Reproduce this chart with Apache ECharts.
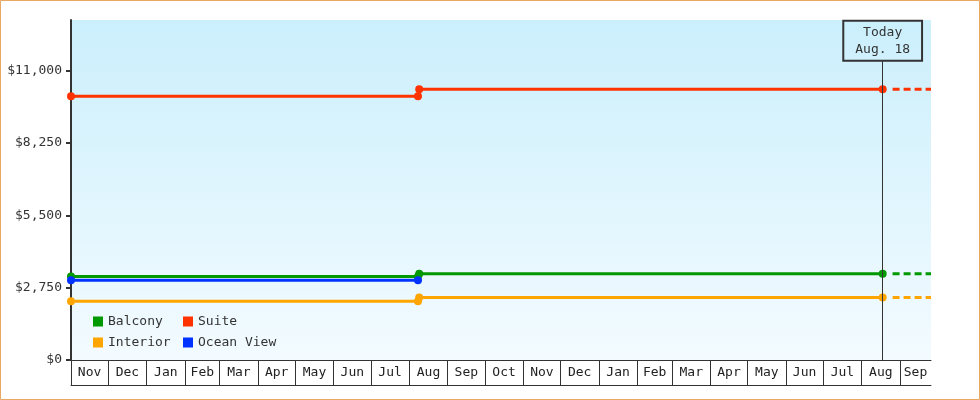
<!DOCTYPE html>
<html>
<head>
<meta charset="utf-8">
<script src="https://cdn.jsdelivr.net/npm/echarts@6/dist/echarts.min.js"></script>
<style>
  html, body { margin: 0; padding: 0; background: #fff; }
  #chart { width: 980px; height: 400px; }
</style>
</head>
<body>
<div id="chart"></div>
<script>
// room types and their prices (before / after the August change)
var rooms = ['Balcony', 'Suite', 'Interior', 'Ocean View'];
var roomColors = ['#009900', '#ff3300', '#ffa500', '#0033ff'];
var oldPrices = [3180, 10030, 2230, 3030];
var newPrices = [3280, 10300, 2380, null];

// dates
var firstDate = new Date(2016, 10, 1).getTime();
var lastOldDate = new Date(2017, 7, 8).getTime();
var firstNewDate = new Date(2017, 7, 9).getTime();
var todayDate = new Date(2018, 7, 18).getTime();
var projectionStart = new Date(2018, 7, 26).getTime();
var axisEnd = new Date(2018, 8, 26).getTime();

// axis labels
var monthNames = ['Jan', 'Feb', 'Mar', 'Apr', 'May', 'Jun', 'Jul', 'Aug', 'Sep', 'Oct', 'Nov', 'Dec'];
var monthCount = 23;
var yTicks = [0, 2750, 5500, 8250, 11000];
var yMax = 12930;
var todayLabel = 'Today\nAug. 18';
var todayTagBase = 11380;

var monthStarts = [];
var monthMids = [];
for (var i = 0; i < monthCount; i++) {
    var s = new Date(2016, 10 + i, 1).getTime();
    var e = Math.min(new Date(2016, 11 + i, 1).getTime(), axisEnd);
    monthStarts.push(s);
    monthMids.push((s + e) / 2);
}

var font = 'DejaVu Sans Mono';
var series = [];
rooms.forEach(function (name, k) {
    var base = {
        name: name,
        type: 'line',
        xAxisIndex: 0,
        symbol: 'circle',
        symbolSize: 8,
        lineStyle: { width: 3, color: roomColors[k] },
        itemStyle: { color: roomColors[k] },
        animation: false
    };
    series.push(Object.assign({}, base, {
        data: [[firstDate, oldPrices[k]], [lastOldDate, oldPrices[k]]]
    }));
    if (newPrices[k] != null) {
        series.push(Object.assign({}, base, {
            data: [[firstNewDate, newPrices[k]], [todayDate, newPrices[k]]]
        }));
        series.push(Object.assign({}, base, {
            symbol: 'none',
            lineStyle: { width: 3, color: roomColors[k], type: [7, 4] },
            data: [[projectionStart, newPrices[k]], [axisEnd, newPrices[k]]]
        }));
    }
});

// today marker
series.push({
    type: 'line',
    data: [],
    markLine: {
        silent: true,
        symbol: 'none',
        animation: false,
        lineStyle: { color: '#333', width: 1, type: 'solid' },
        label: {
            show: true,
            position: 'end',
            distance: 0,
            formatter: todayLabel,
            fontFamily: font,
            fontSize: 13,
            lineHeight: 17,
            color: '#333',
            borderColor: '#333',
            borderWidth: 1,
            padding: [3, 12, 3, 12],
            backgroundColor: 'transparent'
        },
        data: [[{ coord: [todayDate, 0] }, { coord: [todayDate, todayTagBase] }]]
    }
});

var myChart = echarts.init(document.getElementById('chart'));

option = {
    animation: false,
    grid: {
        left: 71, right: 49, top: 20, bottom: 40,
        show: true,
        borderWidth: 0,
        backgroundColor: new echarts.graphic.LinearGradient(0, 0, 0, 1, [
            { offset: 0, color: '#cbeffc' },
            { offset: 1, color: '#f3fbff' }
        ])
    },
    graphic: [{
        type: 'rect',
        shape: { x: 0.5, y: 0.5, width: 979, height: 399 },
        style: { fill: 'none', stroke: '#e8a860', lineWidth: 1 },
        silent: true
    }],
    legend: [
        {
            data: ['Balcony', 'Interior'],
            orient: 'vertical',
            left: 93, top: 315,
            padding: 0,
            itemWidth: 10, itemHeight: 10, itemGap: 8,
            icon: 'rect',
            textStyle: { fontFamily: font, fontSize: 13, color: '#333' }
        },
        {
            data: ['Suite', 'Ocean View'],
            orient: 'vertical',
            left: 183, top: 315,
            padding: 0,
            itemWidth: 10, itemHeight: 10, itemGap: 8,
            icon: 'rect',
            textStyle: { fontFamily: font, fontSize: 13, color: '#333' }
        }
    ],
    xAxis: [
        {
            type: 'value',
            min: firstDate,
            max: axisEnd,
            position: 'bottom',
            splitLine: { show: false },
            axisLine: { show: true, lineStyle: { color: '#333', width: 1 } },
            axisTick: {
                show: true,
                inside: false,
                length: 25,
                customValues: monthStarts,
                lineStyle: { color: '#333', width: 1 }
            },
            axisLabel: {
                show: true,
                customValues: monthMids,
                margin: 6,
                hideOverlap: false,
                showMinLabel: true,
                showMaxLabel: true,
                fontFamily: font,
                fontSize: 13,
                color: '#222',
                formatter: function (v) { return monthNames[new Date(v).getMonth()]; }
            }
        },
        {
            type: 'value',
            min: firstDate,
            max: axisEnd,
            position: 'bottom',
            offset: 25,
            splitLine: { show: false },
            axisLine: { show: true, lineStyle: { color: '#333', width: 1 } },
            axisTick: { show: false },
            axisLabel: { show: false }
        }
    ],
    yAxis: {
        type: 'value',
        min: 0,
        max: yMax,
        splitLine: { show: false },
        axisLine: { show: true, lineStyle: { color: '#333', width: 2 } },
        axisTick: { show: true, length: 5, customValues: yTicks, lineStyle: { color: '#333', width: 2 } },
        axisLabel: {
            customValues: yTicks,
            margin: 9,
            fontFamily: font,
            fontSize: 13,
            color: '#333',
            formatter: function (v) { return '$' + v.toLocaleString('en-US'); }
        }
    },
    series: series
};

myChart.setOption(option);
window.addEventListener('resize', function () {
    myChart.resize();
});
</script>
</body>
</html>
